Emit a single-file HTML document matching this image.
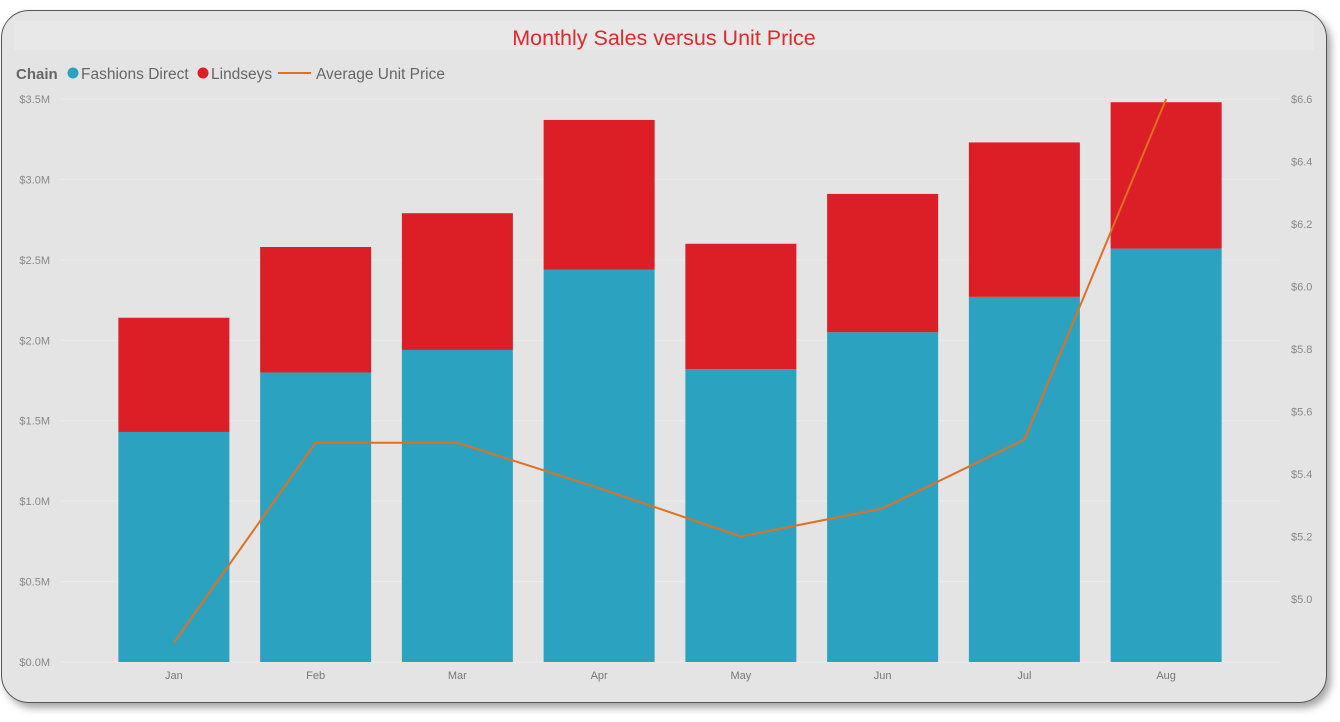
<!DOCTYPE html>
<html><head><meta charset="utf-8"><style>
html,body{margin:0;padding:0;background:#fff;width:1340px;height:722px;overflow:hidden}
#frame{position:absolute;left:1px;top:10px;width:1324px;height:691px;border:1.5px solid #555;border-radius:28px;background:#e4e4e4;box-shadow:4px 5px 8px rgba(0,0,0,0.35)}
svg{position:absolute;left:0;top:0}
text{font-family:"Liberation Sans",sans-serif}
</style></head><body>
<div id="frame"></div>
<svg id="chart" width="1340" height="722"></svg>
<script>
const months=["Jan","Feb","Mar","Apr","May","Jun","Jul","Aug"];
const fashionsDirect=[1.43,1.80,1.94,2.44,1.82,2.05,2.27,2.57];
const lindseys=[0.71,0.78,0.85,0.93,0.78,0.86,0.96,0.91];
const avgUnitPrice=[4.86,5.50,5.50,5.355,5.20,5.29,5.51,6.60];
const leftTicks=[0,0.5,1.0,1.5,2.0,2.5,3.0,3.5];
const rightTicks=[5.0,5.2,5.4,5.6,5.8,6.0,6.2,6.4,6.6];

const NS="http://www.w3.org/2000/svg";
const svg=document.getElementById('chart');
function el(t,a,txt){const e=document.createElementNS(NS,t);for(const k in a)e.setAttribute(k,a[k]);if(txt!==undefined)e.textContent=txt;svg.appendChild(e);return e;}
const plotL=103,plotR=1237,y0=662,y1=99;
const yL=v=>y0-(v/3.5)*(y0-y1);
const yR=v=>y1+(6.6-v)/0.2*62.5;
const step=(plotR-plotL)/months.length;
const xC=i=>plotL+step*(i+0.5);
const bw=111;

let e=el('rect',{x:14,y:21,width:1300,height:29,fill:'#e8e8e8'});

e=el('text',{x:664,y:45,'text-anchor':'middle','font-size':21.5,fill:'#dd2b2b'},'Monthly Sales versus Unit Price');


e=el('text',{x:16,y:79,'font-size':15,'font-weight':'bold',fill:'#666'},'Chain');

e=el('circle',{cx:73,cy:73,r:5.5,fill:'#2ba2c0'});

e=el('text',{x:81,y:79,'font-size':15.5,fill:'#666'},'Fashions Direct');

e=el('circle',{cx:203,cy:73,r:5.5,fill:'#dc1f26'});

e=el('text',{x:211,y:79,'font-size':15.5,fill:'#666'},'Lindseys');

e=el('line',{x1:278,y1:73,x2:311,y2:73,stroke:'#e07020','stroke-width':2});

e=el('text',{x:316,y:79,'font-size':15.5,fill:'#666'},'Average Unit Price');


leftTicks.forEach(v=>{
  const y=yL(v);
  e=el('line',{x1:60,x2:1280,y1:y,y2:y,stroke:'#ececec','stroke-width':1});
  
  e=el('text',{x:50,y:y+4,'font-size':11,fill:'#888','text-anchor':'end'},'$'+v.toFixed(1)+'M');
  
});
rightTicks.forEach(v=>{
  e=el('text',{x:1291,y:yR(v)+4,'font-size':11,fill:'#888'},'$'+v.toFixed(1));
  
});
months.forEach((m,i)=>{
  const x=xC(i)-bw/2;
  const yf=yL(fashionsDirect[i]), yt=yL(fashionsDirect[i]+lindseys[i]);
  e=el('rect',{x:x,y:yf,width:bw,height:y0-yf,fill:'#2ba2c0'});
  
  e=el('rect',{x:x,y:yt,width:bw,height:yf-yt,fill:'#dc1f26'});
  
  e=el('text',{x:xC(i),y:679,'font-size':11,fill:'#777','text-anchor':'middle'},m);
  
});
const pts=avgUnitPrice.map((v,i)=>xC(i)+','+yR(v)).join(' ');
e=el('polyline',{points:pts,fill:'none',stroke:'#e07020','stroke-width':2});

</script>
</body></html>
